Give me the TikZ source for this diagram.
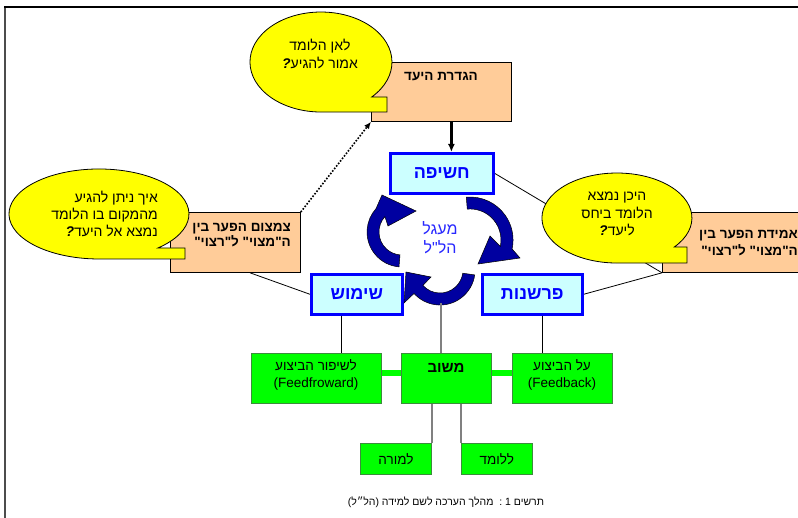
\documentclass[tikz,border=0pt]{standalone}
\usepackage{fontspec}
\setmainfont{Liberation Sans}
\newfontfamily\hebfont[Script=Hebrew]{Liberation Sans}
\TeXXeTstate=1
\usetikzlibrary{arrows.meta,calc}
\newcommand\hebr[1]{{\hebfont\beginR #1\endR}}
\newcommand\qm{{\bfseries\itshape ?}}
\newcommand\fsz[2]{\fontsize{#1}{#2}\selectfont}
\definecolor{peach}{HTML}{FFCC99}
\definecolor{bubyellow}{HTML}{FFFF00}
\definecolor{lcyan}{HTML}{CCFFFF}
\definecolor{bblue}{HTML}{0000FF}
\definecolor{lgreen}{HTML}{00FF00}
\definecolor{gborder}{RGB}{60,140,60}
\definecolor{arrblue}{RGB}{0,0,160}
\definecolor{txtblue}{RGB}{40,40,255}
\begin{document}
\begin{tikzpicture}[x=1pt,y=-1pt,
  peachbox/.style={draw=black,line width=0.8pt,fill=peach,inner sep=0pt,anchor=north west},
  cyanbox/.style={draw=bblue,line width=2.6pt,fill=lcyan,inner sep=0pt,anchor=north west,
     text=bblue,font=\fsz{18}{20}\bfseries},
  greenbox/.style={draw=gborder,line width=0.8pt,fill=lgreen,inner sep=0pt,anchor=north west},
  bubble/.style={draw=black,line width=0.8pt,fill=bubyellow},
  cyc/.style={fill=arrblue,draw=black,line width=0.5pt},
  conn/.style={draw=black,line width=0.8pt},
  gconn/.style={draw=gray,line width=1.6pt},
  gbar/.style={draw=lgreen,line width=6pt},
  txt/.style={inner sep=0pt,font=\fsz{13.5}{17.5}}
]
\useasboundingbox (0,0) rectangle (798,518);
\clip (0,0) rectangle (798,518);
% frame
\draw[line width=2.4pt,black!70] (5,7) -- (5,518);
\draw[line width=2pt,black] (4,7.5) -- (798,7.5);

% boxes (nodes)
\node[peachbox,minimum width=140pt,minimum height=59pt] (goal) at (371,62) {};
\node[peachbox,minimum width=130pt,minimum height=60pt] (lbox) at (170,212) {};
\node[peachbox,minimum width=146pt,minimum height=60pt] (rbox) at (662,212) {};
\node[cyanbox,minimum width=103pt,minimum height=40pt] (chasifa) at (389,152) {\hebr{חשיפה}};
\node[cyanbox,minimum width=91pt,minimum height=40pt] (shimush) at (310,273) {\hebr{שימוש}};
\node[cyanbox,minimum width=100pt,minimum height=40pt] (parshanut) at (481,273) {\hebr{פרשנות}};

% connectors
\draw[conn] (chasifa.east) -- (rbox.south west);
\draw[conn] (parshanut.east) -- (rbox.south west);
\draw[conn] ([xshift=80pt]lbox.south west) -- (shimush.west);
\draw[line width=1.6pt,dash pattern=on 1.6pt off 1.6pt,-{Latex[length=7pt,width=6pt]}]
  (lbox.north east) -- (goal.south west);
\draw[line width=2.2pt,-{Latex[length=8pt,width=7pt]}]
  ([xshift=10pt]goal.south) -- ([xshift=10pt]goal.south |- chasifa.north);

% redraw boxes over connectors
\node[peachbox,minimum width=140pt,minimum height=59pt] at (371,62) {};
\node[peachbox,minimum width=130pt,minimum height=60pt] at (170,212) {};
\node[peachbox,minimum width=146pt,minimum height=60pt] at (662,212) {};
\node[cyanbox,minimum width=103pt,minimum height=40pt] at (389,152) {\hebr{חשיפה}};
\node[cyanbox,minimum width=91pt,minimum height=40pt] at (310,273) {\hebr{שימוש}};
\node[cyanbox,minimum width=100pt,minimum height=40pt] at (481,273) {\hebr{פרשנות}};

% box texts
\node[txt,font=\fsz{13.5}{17}\bfseries] (goaltext) at (441,77) {\hebr{הגדרת היעד}};
\node[txt,font=\fsz{13.5}{15.5}\bfseries,align=right,anchor=east] (lboxtext) at (291,235)
  {\hebr{צמצום הפער בין}\\\hebr{ה"מצוי" ל"רצוי"}};
\node[txt,font=\fsz{13.5}{17}\bfseries,align=right,anchor=east] (rboxtext) at (798,243)
  {\hebr{אמידת הפער בין}\\\hebr{ה"מצוי" ל"רצוי"}};

% speech bubbles
\filldraw[bubble] (371.7,97) arc[start angle=44.4,end angle=-270,x radius=71,y radius=50]
  -- (387,112) -- (387,97) -- cycle;
\node[txt,align=center,font=\fsz{14}{18}] (toptext) at (320,54)
  {\hebr{לאן הלומד}\\{\hebfont\qm}\hebr{אמור להגיע}};
\filldraw[bubble] (157.9,248) arc[start angle=49.1,end angle=-270,x radius=90,y radius=45]
  -- (185,259) -- (185,248) -- cycle;
\node[txt,align=right,anchor=east,font=\fsz{14}{17}] (lefttext) at (158,214)
  {\hebr{איך ניתן להגיע}\\\hebr{מהמקום בו הלומד}\\{\hebfont\qm}\hebr{נמצא אל היעד}};
\filldraw[bubble] (674.3,247) arc[start angle=40.1,end angle=-270,x radius=75,y radius=45]
  -- (687,263) -- (687,247) -- cycle;
\node[txt,align=center,font=\fsz{14}{17.5}] (righttext) at (617,214)
  {\hebr{היכן נמצא}\\\hebr{הלומד ביחס}\\{\hebfont\qm}\hebr{ליעד}};

% cycle arrows
\filldraw[cyc] (466.3,197.2) arc[start angle=-95,end angle=12,radius=43]
  -- (520,258) -- (478,264) -- (490,236) -- (500.3,246.4)
  arc[start angle=12,end angle=-95,radius=31] -- cycle;
\filldraw[cyc] (474.7,274.9) arc[start angle=8,end angle=138,radius=35]
  -- (404,303) -- (406,272) -- (431,277) -- (422.9,285.4)
  arc[start angle=138,end angle=8,radius=23] -- cycle;
\filldraw[cyc] (399,266.9) arc[start angle=95,end angle=222,radius=35]
  -- (382,195) -- (416,211) -- (388,226) -- (384.9,216.6)
  arc[start angle=222,end angle=95,radius=23] -- cycle;
\node[txt,align=center,text=txtblue,font=\fsz{16}{19}] (cycletext) at (440,238)
  {\hebr{מעגל}\\\hebr{הל"ל}};
\coordinate (arrbot) at (441,303);

% green boxes
\node[greenbox,minimum width=130pt,minimum height=50pt] (ff) at (251,353) {};
\node[greenbox,minimum width=90pt,minimum height=50pt] (mishov) at (401,353) {};
\node[greenbox,minimum width=100pt,minimum height=50pt] (fb) at (512,353) {};
\node[greenbox,minimum width=71pt,minimum height=31pt,font=\fsz{13.5}{16}] (lamore) at (360,443) {\hebr{למורה}};
\node[greenbox,minimum width=71pt,minimum height=31pt,font=\fsz{13.5}{16}] (lalomed) at (461,443) {\hebr{ללומד}};

\draw[conn] ([xshift=31pt]shimush.south west) -- ([xshift=31pt]shimush.south west |- ff.north);
\draw[conn] ([xshift=61pt]parshanut.south west) -- ([xshift=61pt]parshanut.south west |- fb.north);
\draw[gconn] (arrbot) -- (arrbot |- mishov.north);
\draw[gconn] (lamore.north east |- mishov.south) -- (lamore.north east);
\draw[gconn] (lalomed.north west |- mishov.south) -- (lalomed.north west);
\draw[gbar] ([yshift=5pt]ff.east) -- ([yshift=5pt]ff.east -| mishov.west);
\draw[gbar] ([yshift=5pt]mishov.east) -- ([yshift=5pt]mishov.east -| fb.west);

\node[txt,align=center] (fftext) at (316,375) {\hebr{לשיפור הביצוע}\\(Feedfroward)};
\node[txt,font=\fsz{15}{17}\bfseries] (mishovtext) at (446,368) {\hebr{משוב}};
\node[txt,align=center] (fbtext) at (562,375) {\hebr{על הביצוע}\\(Feedback)};

% caption
\node[txt,font=\fsz{10.5}{12}] (caption) at (446,502) {\hebr{תרשים 1 :\ \ מהלך הערכה לשם למידה (הל״ל)}};
\end{tikzpicture}
\end{document}
